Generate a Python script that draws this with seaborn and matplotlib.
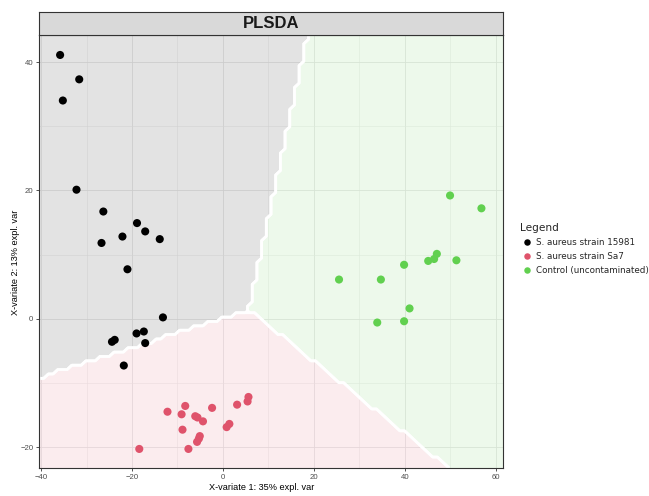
import numpy as np
import pandas as pd
import matplotlib
matplotlib.use("Agg")
import matplotlib.pyplot as plt
import seaborn as sns

# ---------------- data ----------------
groups = ["S. aureus strain 15981", "S. aureus strain Sa7", "Control (uncontaminated)"]
group_colors = ["#000000", "#DF536B", "#61D04F"]

black_x = [-35.8, -31.6, -35.2, -32.2, -26.3, -18.9, -22.1, -17.1, -13.9, -26.7,
           -21.0, -13.2, -19.0, -17.4, -17.1, -24.4, -23.8, -21.8]
black_y = [41.1, 37.3, 34.0, 20.1, 16.7, 14.9, 12.8, 13.6, 12.4, 11.8,
           7.7, 0.2, -2.3, -2.0, -3.8, -3.6, -3.3, -7.3]

red_x = [-12.2, -8.3, -9.1, -6.1, -5.6, -4.4, -2.4, -8.9, -5.1, -5.3,
         -5.7, -7.6, -18.4, 0.8, 1.4, 3.1, 5.6, 5.4]
red_y = [-14.5, -13.6, -14.9, -15.2, -15.4, -16.0, -13.9, -17.3, -18.3, -18.7,
         -19.2, -20.3, -20.3, -16.9, -16.4, -13.4, -12.2, -12.9]

green_x = [49.9, 56.8, 47.0, 46.4, 45.1, 51.3, 39.8, 25.5, 34.7, 41.0, 33.9, 39.8]
green_y = [19.2, 17.2, 10.1, 9.3, 9.0, 9.1, 8.4, 6.1, 6.1, 1.6, -0.6, -0.4]

# prediction-region boundaries: meeting point and far ends of the three borders
boundary_center = (5.6, 1.4)
boundary_end_x = [18.5, -40.4, 49.8]   # gray|green, gray|pink, pink|green
boundary_end_y = [44.2, -9.2, -23.3]

x_ticks = [-40, -20, 0, 20, 40, 60]
y_ticks = [-20, 0, 20, 40]
x_label = "X-variate 1: 35% expl. var"
y_label = "X-variate 2: 13% expl. var"
title = "PLSDA"

df = pd.DataFrame({
    "x": black_x + red_x + green_x,
    "y": black_y + red_y + green_y,
    "group": [groups[0]] * len(black_x) + [groups[1]] * len(red_x) + [groups[2]] * len(green_x),
})

# ---------------- style ----------------
sns.set_style("white")
plt.rcParams["font.family"] = ["Liberation Sans", "DejaVu Sans"]

W, H = 649, 496
fig = plt.figure(figsize=(W / 100, H / 100), dpi=100)
pl, pr, pt, pb = 39, 503, 35, 468
ax = fig.add_axes([pl / W, 1 - pb / H, (pr - pl) / W, (pb - pt) / H])

xlim = (-40.44, 61.54)
ylim = (-23.27, 44.21)
ax.set_xlim(*xlim)
ax.set_ylim(*ylim)

# grid (under the translucent regions)
ax.set_axisbelow(True)
ax.set_xticks(x_ticks)
ax.set_yticks(y_ticks)
ax.set_xticks(np.arange(-30, 61, 20), minor=True)
ax.set_yticks(np.arange(-10, 45, 20), minor=True)
ax.grid(True, which="major", color="#e6e6e6", linewidth=0.6, zorder=0)
ax.grid(True, which="minor", color="#ececec", linewidth=0.4, zorder=0)

# ---------------- background prediction regions ----------------
res = 100
gx = np.linspace(xlim[0], xlim[1], res)
gy = np.linspace(ylim[0], ylim[1], res)
GX, GY = np.meshgrid(gx, gy)
cx, cy = boundary_center
ang = [np.degrees(np.arctan2(ey - cy, ex - cx)) % 360 for ex, ey in zip(boundary_end_x, boundary_end_y)]
theta = np.degrees(np.arctan2(GY - cy, GX - cx)) % 360
cls = np.full(GX.shape, 2)
cls[(theta >= ang[0]) & (theta < ang[1])] = 0
cls[(theta >= ang[1]) & (theta < ang[2])] = 1

for k, col in enumerate(group_colors):
    ind = (cls == k).astype(float)
    ax.contourf(GX, GY, ind, levels=[0.5, 1.5], colors=[col], alpha=0.11, zorder=1, antialiased=True)
for k in range(3):
    ind = (cls == k).astype(float)
    ax.contour(GX, GY, ind, levels=[0.5], colors="white", linewidths=2.0, zorder=2)

# ---------------- points ----------------
sns.scatterplot(data=df, x="x", y="y", hue="group", hue_order=groups,
                palette=dict(zip(groups, group_colors)), s=34, linewidth=0,
                ax=ax, zorder=3)

# ---------------- axes cosmetics ----------------
for sp in ax.spines.values():
    sp.set_color("#333333")
    sp.set_linewidth(0.8)
ax.tick_params(which="major", length=2.2, width=0.6, color="#333333",
               labelsize=5.6, labelcolor="#4d4d4d", pad=1.8, bottom=True, left=True)
ax.tick_params(which="minor", length=0)
ax.set_xlabel(x_label, fontsize=6.6, color="#000000", labelpad=1)
ax.set_ylabel(y_label, fontsize=6.6, color="#000000", labelpad=1)
ax.xaxis.set_label_coords((262 - pl) / (pr - pl), -(487 - pb) / (pb - pt))
ax.yaxis.set_label_coords(-(pl - 15) / (pr - pl), (pb - 262) / (pb - pt))
ax.xaxis.label.set_va("center")
ax.yaxis.label.set_va("center")

# facet strip
sax = fig.add_axes([pl / W, 1 - pt / H, (pr - pl) / W, (pt - 12) / H])
sax.set_facecolor("#d9d9d9")
sax.set_xticks([])
sax.set_yticks([])
for sp in sax.spines.values():
    sp.set_color("#333333")
    sp.set_linewidth(0.8)
sax.text(0.5, 0.5, title, transform=sax.transAxes, ha="center", va="center",
         fontsize=12, fontweight="bold", color="#1a1a1a")

# legend
sns.move_legend(ax, "upper left", bbox_to_anchor=(516 / W, 1 - 219 / H),
                bbox_transform=fig.transFigure, frameon=False, title="Legend",
                fontsize=6.3, title_fontsize=7.6, markerscale=0.8,
                handletextpad=0.2, labelspacing=0.55, borderpad=0,
                handlelength=1.6, alignment="left")
leg = ax.get_legend()
for t in leg.get_texts():
    t.set_family(["DejaVu Sans"])
leg.get_title().set_family(["DejaVu Sans"])

fig.savefig("out.png", dpi=100)
